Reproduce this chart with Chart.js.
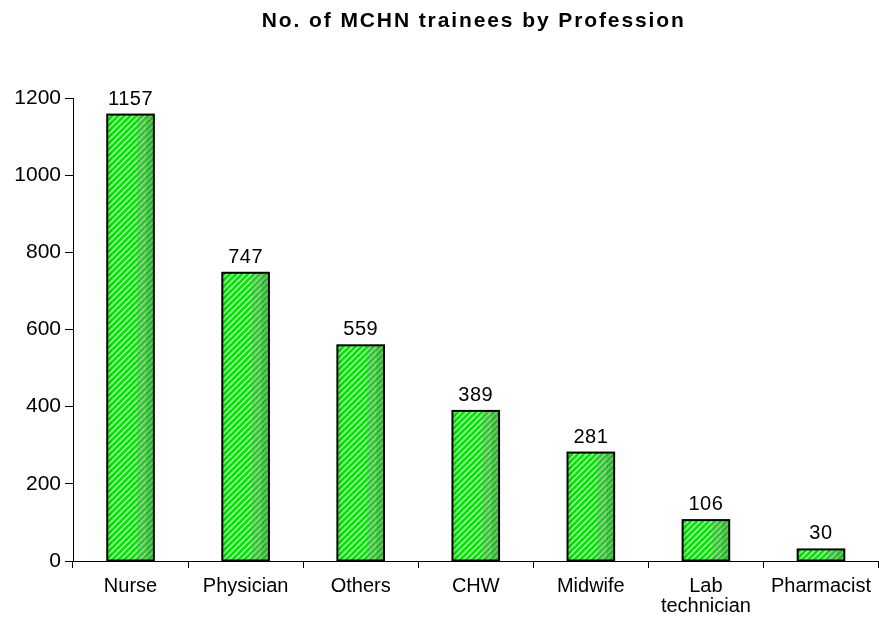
<!DOCTYPE html>
<html>
<head>
<meta charset="utf-8">
<script src="https://cdn.jsdelivr.net/npm/chart.js@4"></script>
<style>
  html, body { margin: 0; padding: 0; background: #fff; }
  #wrap { width: 879px; height: 624px; }
</style>
</head>
<body>
<div id="wrap"><canvas id="traineesChart" width="879" height="624"></canvas></div>
<script>
const chartTitle = 'No. of MCHN trainees by Profession';
const professions = ['Nurse', 'Physician', 'Others', 'CHW', 'Midwife', ['Lab', 'technician'], 'Pharmacist'];
const trainees = [1157, 747, 559, 389, 281, 106, 30];
const yTicks = [0, 200, 400, 600, 800, 1000, 1200];

const FONT = '"Liberation Sans", Arial, sans-serif';

// diagonal stripe pattern for the bars
function makeStripes(){
    let c = document.createElement('canvas');
    c.width = 6; c.height = 6;
    let g = c.getContext('2d');
    g.fillStyle = '#b8ffb8';
    g.fillRect(0, 0, 6, 6);
    g.strokeStyle = '#00e600';
    g.lineWidth = 2.8;
    g.beginPath();
    g.moveTo(-1, 7); g.lineTo(7, -1);
    g.moveTo(-4, 4); g.lineTo(4, -4);
    g.moveTo(2, 10); g.lineTo(10, 2);
    g.stroke();
    return g.createPattern(c, 'repeat');
}

let ctx = document.getElementById('traineesChart').getContext('2d');

const barShade = {
    id: 'barShade',
    afterDatasetsDraw(chart){
        let c = chart.ctx;
        let meta = chart.getDatasetMeta(0);
        c.save();
        meta.data.forEach(function(bar){
            let left = bar.x - bar.width / 2;
            let top = bar.y;
            let h = bar.base - bar.y;
            // muted right part
            c.fillStyle = 'rgba(120,150,120,0.38)';
            c.fillRect(left + bar.width * 0.64, top + 1, bar.width * 0.36 - 1, h - 1);
            c.fillStyle = 'rgba(0,120,0,0.18)';
            c.fillRect(left + bar.width * 0.84, top + 1, bar.width * 0.16 - 1, h - 1);
            // slight dark left edge
            c.fillStyle = 'rgba(0,100,0,0.15)';
            c.fillRect(left + 1, top + 1, 3, h - 1);
            c.strokeStyle = '#000';
            c.lineWidth = 2;
            c.strokeRect(left, top, bar.width, h);
        });
        c.restore();
    }
};

const valueLabels = {
    id: 'valueLabels',
    afterDraw(chart){
        let c = chart.ctx;
        let meta = chart.getDatasetMeta(0);
        c.save();
        c.font = '20px ' + FONT;
        c.letterSpacing = '0.5px';
        c.fillStyle = '#000';
        c.textAlign = 'center';
        c.textBaseline = 'alphabetic';
        meta.data.forEach(function(bar, i){
            c.fillText(trainees[i], bar.x, bar.y - 10);
        });
        // title centred over the plot area
        let area = chart.chartArea;
        c.font = 'bold 21px ' + FONT;
        c.letterSpacing = '1.9px';
        c.fillText(chartTitle, (area.left + area.right) / 2 - 2, 27);
        c.restore();
    }
};

new Chart(ctx, {
    type: 'bar',
    data: {
        labels: professions,
        datasets: [{
            data: trainees,
            backgroundColor: makeStripes(),
            borderColor: '#000',
            borderWidth: 0,
            barPercentage: 0.405,
            categoryPercentage: 1
        }]
    },
    options: {
        responsive: false,
        animation: false,
        layout: { padding: { top: 98, left: 0, right: -6, bottom: 0 } },
        plugins: {
            legend: { display: false },
            title: { display: false },
            tooltip: { enabled: false }
        },
        scales: {
            x: {
                grid: { display: true, drawOnChartArea: false, offset: true, tickLength: 7, color: '#000', lineWidth: 1 },
                border: { display: true, color: '#000', width: 1 },
                ticks: { color: '#000', font: { family: FONT, size: 20, lineHeight: 1 }, padding: 8, maxRotation: 0, autoSkip: false },
                afterFit(scale){ scale.height = 63; }
            },
            y: {
                min: 0,
                max: 1200,
                afterBuildTicks(scale){ scale.ticks = yTicks.map(v => ({ value: v })); },
                grid: { display: true, drawOnChartArea: false, tickLength: 8, color: '#000', lineWidth: 1 },
                border: { display: true, color: '#000', width: 1 },
                ticks: { color: '#000', font: { family: FONT, size: 21 }, padding: 4, callback: v => String(v) },
                afterFit(scale){ scale.width = 73; }
            }
        }
    },
    plugins: [barShade, valueLabels]
});
</script>
</body>
</html>
